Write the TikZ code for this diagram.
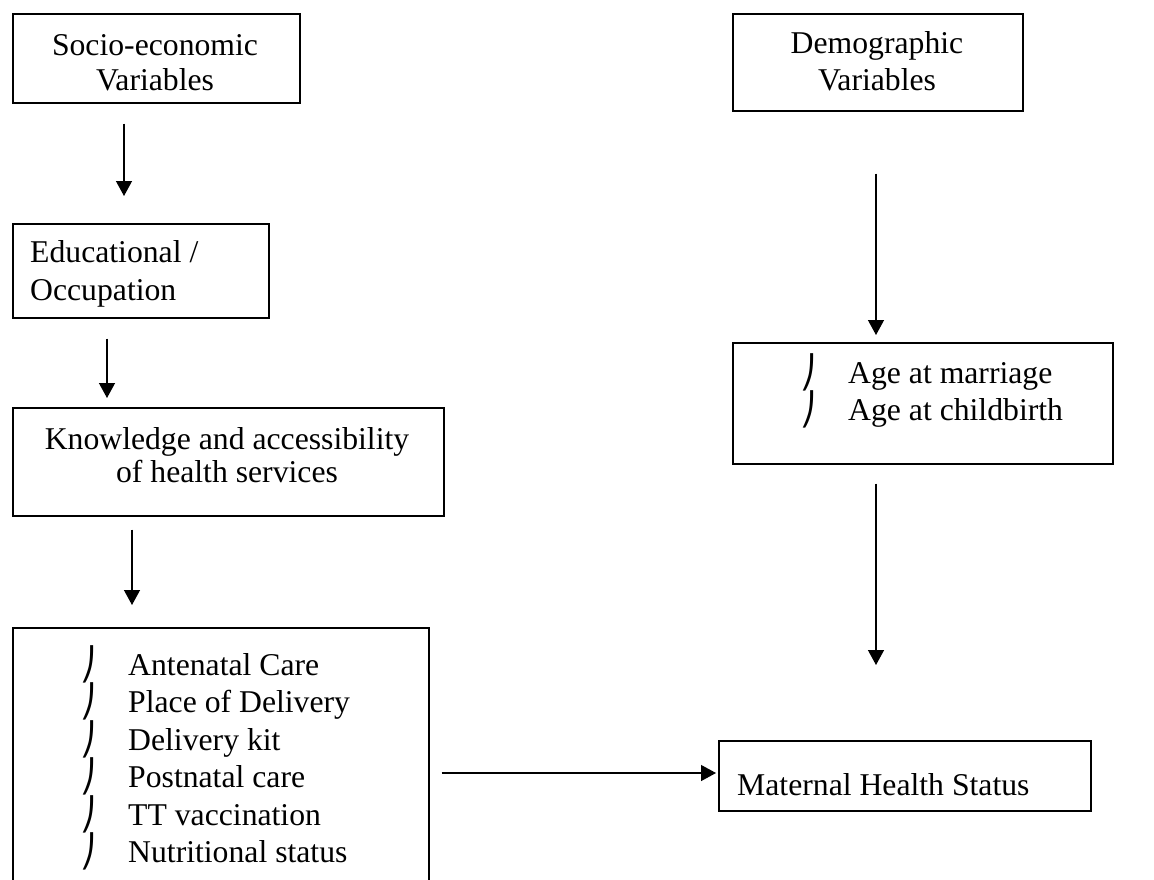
\documentclass[tikz,border=0pt]{standalone}
\usepackage{fontspec}
\setmainfont{Liberation Serif}
\newfontfamily\bulfont{DejaVu Sans}
\usetikzlibrary{arrows.meta}
\begin{document}
\begin{tikzpicture}[x=1pt,y=-1pt,
  box/.style={draw, line width=1.5pt, inner sep=0pt, anchor=north west},
  lbl/.style={font=\fontsize{31.7}{38}\selectfont, inner sep=0pt, anchor=base west},
  clbl/.style={font=\fontsize{31.7}{38}\selectfont, inner sep=0pt, anchor=base},
  bul/.style={font=\bulfont\fontsize{31.7}{38}\selectfont, inner sep=0pt, anchor=base west},
  arr/.style={-{Triangle[width=16pt,length=15pt]}, line width=1.3pt}]
\fill[white] (0,0) rectangle (1154,879);
\useasboundingbox (0,0) rectangle (1154,879);
\begin{scope}
\clip (0,0) rectangle (1154,879);
% left column
\node[box, minimum width=287pt, minimum height=89pt] (se) at (12,13) {};
\node[clbl] (se1) at (155,55) {Socio-economic};
\node[clbl] (se2) at (155,90) {Variables};

\node[box, minimum width=256pt, minimum height=94pt] (ed) at (12,223) {};
\node[lbl] (ed1) at (30,262) {Educational /};
\node[lbl] (ed2) at (30,300) {Occupation};

\node[box, minimum width=431pt, minimum height=108pt] (kn) at (12,407) {};
\node[clbl] (kn1) at (227,449) {Knowledge and accessibility};
\node[clbl] (kn2) at (227,482) {of health services};

\node[box, minimum width=416pt, minimum height=280pt] (ls) at (12,627) {};
\node[bul] (lb1) at (80,675) {⎠};
\node[lbl] (lt1) at (128,675) {Antenatal Care};
\node[bul] (lb2) at (80,712.5) {⎠};
\node[lbl] (lt2) at (128,712.5) {Place of Delivery};
\node[bul] (lb3) at (80,750) {⎠};
\node[lbl] (lt3) at (128,750) {Delivery kit};
\node[bul] (lb4) at (80,787.5) {⎠};
\node[lbl] (lt4) at (128,787.5) {Postnatal care};
\node[bul] (lb5) at (80,825) {⎠};
\node[lbl] (lt5) at (128,825) {TT vaccination};
\node[bul] (lb6) at (80,862.5) {⎠};
\node[lbl] (lt6) at (128,862.5) {Nutritional status};

% right column
\node[box, minimum width=290pt, minimum height=97pt] (dm) at (732,13) {};
\node[clbl] (dm1) at (877,53) {Demographic};
\node[clbl] (dm2) at (877,90) {Variables};

\node[box, minimum width=380pt, minimum height=121pt] (ag) at (732,342) {};
\node[bul] (ab1) at (800,383) {⎠};
\node[lbl] (at1) at (848,383) {Age at marriage};
\node[bul] (ab2) at (800,420) {⎠};
\node[lbl] (at2) at (848,420) {Age at childbirth};

\node[box, minimum width=372pt, minimum height=70pt] (mh) at (718,740) {};
\node[lbl] (mt) at (737,795) {Maternal Health Status};

% connectors
\draw[arr] ([shift={(112,20)}]se.south west) -- ([shift={(112,-27)}]ed.north west);
\draw[arr] ([shift={(95,20)}]ed.south west) -- ([shift={(95,-9)}]kn.north west);
\draw[arr] ([shift={(120,13)}]kn.south west) -- ([shift={(120,-22)}]ls.north west);
\draw[arr] ([shift={(144,62)}]dm.south west) -- ([shift={(144,-7)}]ag.north west);
\draw[arr] ([shift={(144,19)}]ag.south west) -- ([shift={(158,-75)}]mh.north west);
\draw[arr] ([shift={(12,146)}]ls.north east) -- ([shift={(-2,33)}]mh.north west);
\end{scope}
\end{tikzpicture}
\end{document}
